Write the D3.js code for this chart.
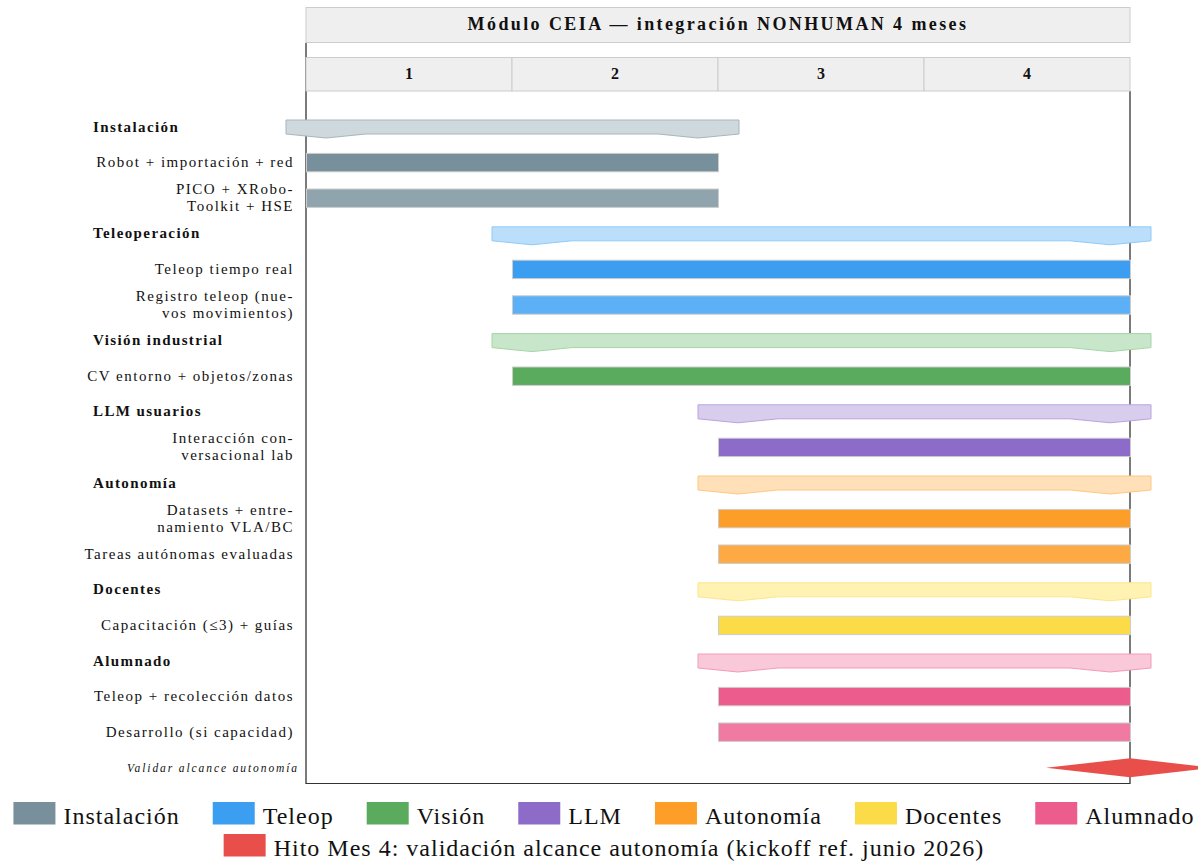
<!DOCTYPE html>
<html>
<head>
<meta charset="utf-8">
<script src="https://cdn.jsdelivr.net/npm/d3@7"></script>
<style>
  body { margin: 0; background: #fff; }
  svg { display: block; font-family: "Liberation Serif", "DejaVu Serif", serif; }
</style>
</head>
<body>
<svg id="gantt" width="1198" height="863"></svg>
<script>
// chart data
const title = "Módulo CEIA — integración NONHUMAN 4 meses";
const months = ["1", "2", "3", "4"];

const rowKind = ["group", "bar", "bar", "group", "bar", "bar", "group", "bar", "group", "bar",
                 "group", "bar", "bar", "group", "bar", "group", "bar", "bar", "milestone"];
const rowLabel = [
    "Instalación", "Robot + importación + red", "PICO + XRobo-\nToolkit + HSE",
    "Teleoperación", "Teleop tiempo real", "Registro teleop (nue-\nvos movimientos)",
    "Visión industrial", "CV entorno + objetos/zonas",
    "LLM usuarios", "Interacción con-\nversacional lab",
    "Autonomía", "Datasets + entre-\nnamiento VLA/BC", "Tareas autónomas evaluadas",
    "Docentes", "Capacitación (≤3) + guías",
    "Alumnado", "Teleop + recolección datos", "Desarrollo (si capacidad)",
    "Validar alcance autonomía"
];
const rowStart = [0, 0, 0, 1, 1, 1, 1, 1, 2, 2, 2, 2, 2, 2, 2, 2, 2, 2, 4];
const rowEnd   = [2, 2, 2, 4, 4, 4, 4, 4, 4, 4, 4, 4, 4, 4, 4, 4, 4, 4, 4];
const rowFill = ["#cfd8dc", "#78909c", "#90a4ae", "#bbdefb", "#3b9ef0", "#5bb0f6",
                 "#c8e6c9", "#5aab5d", "#d9cdee", "#8d6bc8", "#ffe0b8", "#fd9e28", "#fdaa45",
                 "#fff2b3", "#fcdb49", "#f9c8d9", "#ec5c8c", "#f07aa2", "#e84f4a"];
const rowStroke = ["#a7b6bd", "#cccccc", "#cccccc", "#90caf9", "#cccccc", "#cccccc",
                   "#a5d6a7", "#cccccc", "#b9a3dd", "#cccccc", "#ffc780", "#cccccc", "#cccccc",
                   "#fce68a", "#cccccc", "#f29bb9", "#cccccc", "#cccccc", "none"];

const legendNames = ["Instalación", "Teleop", "Visión", "LLM", "Autonomía", "Docentes", "Alumnado"];
const legendColors = ["#78909c", "#3b9ef0", "#5aab5d", "#8d6bc8", "#fd9e28", "#fcdb49", "#ec5c8c"];
const legendNames2 = ["Hito Mes 4: validación alcance autonomía (kickoff ref. junio 2026)"];
const legendColors2 = ["#e84f4a"];

const svg = d3.select("#gantt");

const x = d3.scaleLinear().domain([0, months.length]).range([306, 1130]);
const y = d3.scaleBand().domain(d3.range(rowKind.length)).range([109.2, 785.6]);
const cy = i => y(i) + y.bandwidth() / 2;
const monthBand = d3.scaleBand().domain(months).range([306, 1130]);

// title box
svg.append("rect")
    .attr("x", x(0)).attr("y", 7.5)
    .attr("width", x(4) - x(0)).attr("height", 35)
    .attr("fill", "#efefef").attr("stroke", "#cccccc");
svg.append("text")
    .attr("x", (x(0) + x(4)) / 2).attr("y", 29.5)
    .attr("text-anchor", "middle")
    .attr("font-weight", "bold").attr("font-size", 18)
    .attr("letter-spacing", 2.4)
    .attr("fill", "#111")
    .text(title);

// frame lines
svg.append("line").attr("x1", x(0)).attr("x2", x(0)).attr("y1", 43).attr("y2", 784)
    .attr("stroke", "#222").attr("stroke-width", 1.2);
svg.append("line").attr("x1", x(4)).attr("x2", x(4)).attr("y1", 91).attr("y2", 784)
    .attr("stroke", "#222").attr("stroke-width", 1.2);
svg.append("line").attr("x1", x(0)).attr("x2", x(4)).attr("y1", 783.5).attr("y2", 783.5)
    .attr("stroke", "#333").attr("stroke-width", 1.2);

// month header
const mh = svg.append("g");
mh.selectAll("rect").data(months).join("rect")
    .attr("x", d => monthBand(d)).attr("y", 57.5)
    .attr("width", monthBand.bandwidth()).attr("height", 33.5)
    .attr("fill", "#efefef").attr("stroke", "#cccccc");
mh.selectAll("text").data(months).join("text")
    .attr("x", d => monthBand(d) + monthBand.bandwidth() / 2).attr("y", 79)
    .attr("text-anchor", "middle")
    .attr("font-weight", "bold").attr("font-size", 16)
    .attr("fill", "#111")
    .text(d => d);

const rows = d3.range(rowKind.length);

// group brackets
function groupPath(i) {
    const xs = x(rowStart[i]), xe = x(rowEnd[i]), c = cy(i);
    const top = c - 7, bot = c + 7, peak = c + 11;
    return `M${xs - 20},${top} L${xe + 21},${top} L${xe + 21},${bot} L${xe - 20},${peak} ` +
        `L${xe - 60},${bot} L${xs + 60},${bot} L${xs + 20},${peak} L${xs - 20},${bot} Z`;
}
svg.append("g").selectAll("path")
    .data(rows.filter(i => rowKind[i] === "group")).join("path")
    .attr("d", groupPath)
    .attr("fill", i => rowFill[i])
    .attr("stroke", i => rowStroke[i]);

// task bars
svg.append("g").selectAll("rect")
    .data(rows.filter(i => rowKind[i] === "bar")).join("rect")
    .attr("x", i => x(rowStart[i]) + 0.5)
    .attr("y", i => cy(i) - 9.2)
    .attr("width", i => x(rowEnd[i]) - x(rowStart[i]))
    .attr("height", 18.4)
    .attr("fill", i => rowFill[i])
    .attr("stroke", i => rowStroke[i]);

// milestone
svg.append("g").selectAll("path")
    .data(rows.filter(i => rowKind[i] === "milestone")).join("path")
    .attr("d", i => {
        const mx = x(rowEnd[i]), c = cy(i);
        return `M${mx - 84},${c} L${mx},${c - 9.5} L${mx + 84},${c} L${mx},${c + 9.5} Z`;
    })
    .attr("fill", i => rowFill[i]);

// row labels
const labels = svg.append("g").selectAll("text").data(rows).join("text")
    .attr("x", i => rowKind[i] === "group" ? 93 : (rowKind[i] === "milestone" ? 299 : 294))
    .attr("y", i => cy(i) - 0.5)
    .attr("text-anchor", i => rowKind[i] === "group" ? "start" : "end")
    .attr("font-weight", i => rowKind[i] === "group" ? "bold" : null)
    .attr("font-style", i => rowKind[i] === "milestone" ? "italic" : null)
    .attr("font-size", i => rowKind[i] === "milestone" ? 11.5 : 15)
    .attr("letter-spacing", i => rowKind[i] === "milestone" ? 1.9 : (rowKind[i] === "group" ? 1.4 : 1.5))
    .attr("fill", "#111");

labels.selectAll("tspan")
    .data(i => {
        const lines = rowLabel[i].split("\n");
        return lines.map((t, k) => ({ t: t, dy: (k - (lines.length - 1) / 2) * 17 + 5 }));
    })
    .join("tspan")
    .attr("x", function() { return this.parentNode.getAttribute("x"); })
    .attr("y", function(d) { return +this.parentNode.getAttribute("y") + d.dy; })
    .text(d => d.t);

// legend
function drawLegend(names, colors, ySwatch) {
    const g = svg.append("g");
    const items = g.selectAll("g").data(names).join("g");
    items.append("rect")
        .attr("width", 42).attr("height", 22.5)
        .attr("y", ySwatch)
        .attr("fill", (d, i) => colors[i]);
    items.append("text")
        .attr("x", 50).attr("y", ySwatch + 22)
        .attr("font-size", 24)
        .attr("letter-spacing", 1)
        .attr("fill", "#111")
        .text(d => d);
    let widths = [];
    items.select("text").each(function() { widths.push(this.getComputedTextLength()); });
    const gap = 33;
    const total = d3.sum(widths, w => 50 + w) + gap * (widths.length - 1);
    let pos = 604 - total / 2;
    items.attr("transform", (d, i) => {
        const t = `translate(${pos},0)`;
        pos += 50 + widths[i] + gap;
        return t;
    });
}
drawLegend(legendNames, legendColors, 802);
drawLegend(legendNames2, legendColors2, 834);
</script>
</body>
</html>
